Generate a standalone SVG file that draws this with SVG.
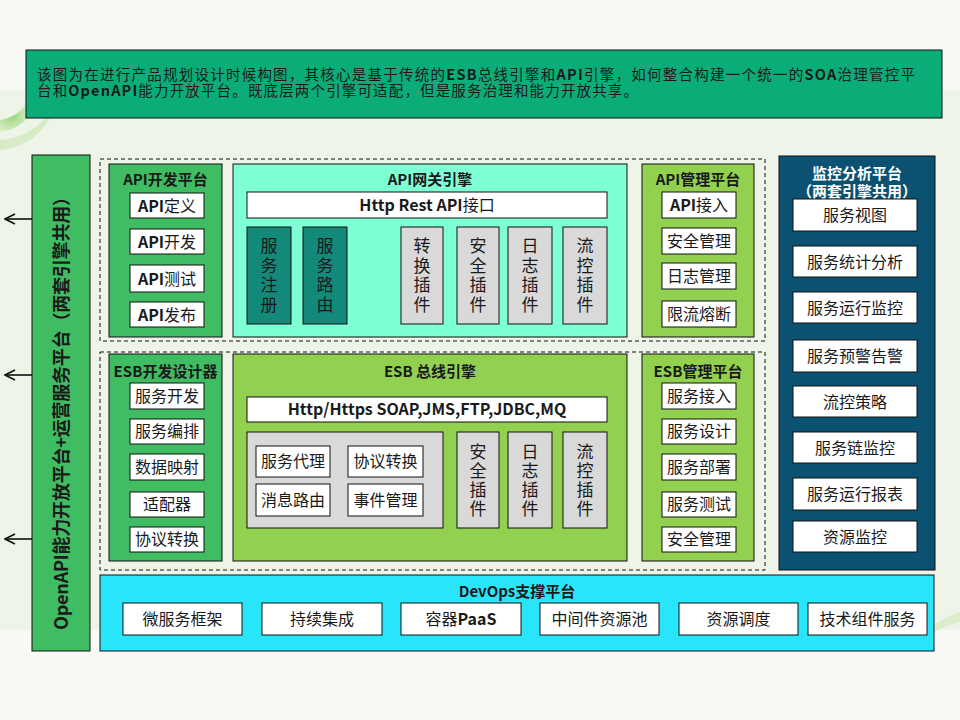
<svg xmlns="http://www.w3.org/2000/svg" width="960" height="720" viewBox="0 0 960 720">
<defs>
<style>
text{font-family:"Noto Sans CJK SC","Noto Sans",sans-serif;fill:#1a1a1a}
.b{font-weight:bold}
.ttl{font-size:15px;font-weight:bold;text-anchor:middle}
.it{font-size:16px;text-anchor:middle}
.vt{font-size:17px;text-anchor:middle}
.box{fill:#fff;stroke:#111;stroke-width:1}
.gray{fill:#d9d9d9;stroke:#111;stroke-width:1}
.teal{fill:#13897a;stroke:#111;stroke-width:1}
.dash{fill:none;stroke:#111;stroke-width:1;stroke-dasharray:4 3}
.g1{fill:#40bd62;stroke:#111;stroke-width:1}
.g2{fill:#92d050;stroke:#111;stroke-width:1}
.conn{stroke:#111;stroke-width:1.6;fill:none}
</style>
<marker id="arr" viewBox="0 0 12 12" refX="11" refY="6" markerWidth="12" markerHeight="12" markerUnits="userSpaceOnUse" orient="auto">
<polyline points="1,1 11,6 1,11" fill="none" stroke="#111" stroke-width="1.6"/>
</marker>
<radialGradient id="sw" cx="0.3" cy="0.5" r="0.7">
<stop offset="0" stop-color="#8fd06a" stop-opacity="0.9"/>
<stop offset="1" stop-color="#c8e8b4" stop-opacity="0.3"/>
</radialGradient>
</defs>
<g id="background">
<rect x="0" y="0" width="960" height="720" fill="#f7faf4"/>
<rect x="0" y="90" width="960" height="540" fill="#eef5e8"/>
<path d="M0,150 C25,148 48,132 58,100 C45,125 25,138 0,140 Z" fill="#cfe9bd" opacity="0.8"/>
<path d="M0,132 C18,130 32,118 38,100 L28,100 C22,112 12,118 0,120 Z" fill="url(#sw)"/>
<path d="M920,632 C935,625 948,615 960,612 L960,622 C948,625 938,630 930,634 Z" fill="#d5ebc6" opacity="0.8"/>
</g>
<g id="intro">
<rect x="26" y="50" width="916" height="68" fill="#0aad78" stroke="#111" stroke-width="1"/>
<text x="37" y="80" font-size="14.5" textLength="878" lengthAdjust="spacing">该图为在进行产品规划设计时候构图，其核心是基于传统的<tspan class="b">ESB</tspan>总线引擎和<tspan class="b">API</tspan>引擎，如何整合构建一个统一的<tspan class="b">SOA</tspan>治理管控平</text>
<text x="37" y="96" font-size="14.5" textLength="601" lengthAdjust="spacing">台和<tspan class="b">OpenAPI</tspan>能力开放平台。既底层两个引擎可适配，但是服务治理和能力开放共享。</text>
</g>
<g id="connectors">
<line class="conn" x1="32" y1="219" x2="5" y2="219" marker-end="url(#arr)"/>
<line class="conn" x1="32" y1="375" x2="5" y2="375" marker-end="url(#arr)"/>
<line class="conn" x1="32" y1="539" x2="5" y2="539" marker-end="url(#arr)"/>
</g>
<g id="openapi-platform">
<rect class="g1" x="32" y="155" width="58" height="496"/>
<text class="b" font-size="18" text-anchor="middle" transform="translate(67.5,409) rotate(-90)" textLength="442" lengthAdjust="spacing">OpenAPI能力开放平台+运营服务平台（两套引擎共用）</text>
</g>
<g id="api-group">
<rect class="dash" x="100" y="159" width="665" height="182"/>
</g>
<g id="esb-group">
<rect class="dash" x="100" y="352" width="665" height="218"/>
</g>
<g id="api-dev">
<rect class="g1" x="109" y="164" width="113" height="173"/>
<text class="ttl" x="165.5" y="184.5">API开发平台</text>
<rect class="box" x="130" y="193" width="74" height="25"/><text class="it" x="167" y="211.5"><tspan class="b">API</tspan>定义</text>
<rect class="box" x="130" y="229" width="74" height="25"/><text class="it" x="167" y="247.5"><tspan class="b">API</tspan>开发</text>
<rect class="box" x="130" y="265" width="74" height="27"/><text class="it" x="167" y="284.5"><tspan class="b">API</tspan>测试</text>
<rect class="box" x="130" y="302" width="74" height="25"/><text class="it" x="167" y="320.5"><tspan class="b">API</tspan>发布</text>
</g>
<g id="api-gateway">
<rect x="233" y="164" width="394" height="173" fill="#7fffd4" stroke="#111" stroke-width="1"/>
<text class="ttl" x="430" y="184.5">API网关引擎</text>
<rect class="box" x="247" y="192" width="360" height="26"/>
<text class="it" x="427" y="210.5"><tspan class="b">Http Rest API</tspan>接口</text>
<rect class="teal" x="247" y="227" width="44" height="97"/>
<text class="vt" x="269" y="252"><tspan x="269">服</tspan><tspan x="269" dy="19.5">务</tspan><tspan x="269" dy="19.5">注</tspan><tspan x="269" dy="19.5">册</tspan></text>
<rect class="teal" x="303" y="227" width="44" height="97"/>
<text class="vt" x="325" y="252"><tspan x="325">服</tspan><tspan x="325" dy="19.5">务</tspan><tspan x="325" dy="19.5">路</tspan><tspan x="325" dy="19.5">由</tspan></text>
<rect class="gray" x="401" y="227" width="42" height="97"/>
<text class="vt" x="422" y="252"><tspan x="422">转</tspan><tspan x="422" dy="19.5">换</tspan><tspan x="422" dy="19.5">插</tspan><tspan x="422" dy="19.5">件</tspan></text>
<rect class="gray" x="457" y="227" width="42" height="97"/>
<text class="vt" x="478" y="252"><tspan x="478">安</tspan><tspan x="478" dy="19.5">全</tspan><tspan x="478" dy="19.5">插</tspan><tspan x="478" dy="19.5">件</tspan></text>
<rect class="gray" x="508" y="227" width="44" height="97"/>
<text class="vt" x="530" y="252"><tspan x="530">日</tspan><tspan x="530" dy="19.5">志</tspan><tspan x="530" dy="19.5">插</tspan><tspan x="530" dy="19.5">件</tspan></text>
<rect class="gray" x="563" y="227" width="44" height="97"/>
<text class="vt" x="585" y="252"><tspan x="585">流</tspan><tspan x="585" dy="19.5">控</tspan><tspan x="585" dy="19.5">插</tspan><tspan x="585" dy="19.5">件</tspan></text>
</g>
<g id="api-mgmt">
<rect class="g2" x="642" y="164" width="112" height="173"/>
<text class="ttl" x="698" y="184.5">API管理平台</text>
<rect class="box" x="662" y="192" width="74" height="26"/><text class="it" x="699" y="210.5"><tspan class="b">API</tspan>接入</text>
<rect class="box" x="662" y="228" width="74" height="26"/><text class="it" x="699" y="246.5">安全管理</text>
<rect class="box" x="662" y="263" width="74" height="26"/><text class="it" x="699" y="281.5">日志管理</text>
<rect class="box" x="662" y="301" width="74" height="26"/><text class="it" x="699" y="319.5">限流熔断</text>
</g>
<g id="esb-dev">
<rect class="g1" x="109" y="354" width="113" height="207"/>
<text class="ttl" x="165.5" y="376.5">ESB开发设计器</text>
<rect class="box" x="130" y="383" width="74" height="26"/><text class="it" x="167" y="401.5">服务开发</text>
<rect class="box" x="130" y="419" width="74" height="25"/><text class="it" x="167" y="437">服务编排</text>
<rect class="box" x="130" y="454" width="74" height="26"/><text class="it" x="167" y="472.5">数据映射</text>
<rect class="box" x="130" y="492" width="74" height="25"/><text class="it" x="167" y="510">适配器</text>
<rect class="box" x="130" y="527" width="74" height="25"/><text class="it" x="167" y="545">协议转换</text>
</g>
<g id="esb-bus">
<rect class="g2" x="233" y="354" width="394" height="207"/>
<text class="ttl" x="430" y="376.5">ESB 总线引擎</text>
<rect class="box" x="247" y="397" width="360" height="25"/>
<text class="it b" x="427" y="415">Http/Https SOAP,JMS,FTP,JDBC,MQ</text>
<rect class="gray" x="247" y="432" width="196" height="96"/>
<rect class="box" x="256" y="446" width="74" height="31"/><text class="it" x="293" y="467">服务代理</text>
<rect class="box" x="348" y="446" width="75" height="31"/><text class="it" x="385.5" y="467">协议转换</text>
<rect class="box" x="256" y="484" width="74" height="32"/><text class="it" x="293" y="505.5">消息路由</text>
<rect class="box" x="348" y="484" width="75" height="32"/><text class="it" x="385.5" y="505.5">事件管理</text>
<rect class="gray" x="457" y="432" width="42" height="96"/>
<text class="vt" x="478" y="458"><tspan x="478">安</tspan><tspan x="478" dy="19">全</tspan><tspan x="478" dy="19">插</tspan><tspan x="478" dy="19">件</tspan></text>
<rect class="gray" x="508" y="432" width="44" height="96"/>
<text class="vt" x="530" y="458"><tspan x="530">日</tspan><tspan x="530" dy="19">志</tspan><tspan x="530" dy="19">插</tspan><tspan x="530" dy="19">件</tspan></text>
<rect class="gray" x="563" y="432" width="44" height="96"/>
<text class="vt" x="585" y="458"><tspan x="585">流</tspan><tspan x="585" dy="19">控</tspan><tspan x="585" dy="19">插</tspan><tspan x="585" dy="19">件</tspan></text>
</g>
<g id="esb-mgmt">
<rect class="g2" x="642" y="354" width="112" height="207"/>
<text class="ttl" x="698" y="376.5">ESB管理平台</text>
<rect class="box" x="662" y="383" width="74" height="26"/><text class="it" x="699" y="401.5">服务接入</text>
<rect class="box" x="662" y="419" width="74" height="25"/><text class="it" x="699" y="437">服务设计</text>
<rect class="box" x="662" y="454" width="74" height="26"/><text class="it" x="699" y="472.5">服务部署</text>
<rect class="box" x="662" y="492" width="74" height="25"/><text class="it" x="699" y="510">服务测试</text>
<rect class="box" x="662" y="527" width="74" height="25"/><text class="it" x="699" y="545">安全管理</text>
</g>
<g id="monitor">
<rect x="779" y="156" width="156" height="414" fill="#0b5272" stroke="#111" stroke-width="1"/>
<text class="ttl" x="857" y="179" style="fill:#fff" font-size="15.5">监控分析平台</text>
<text class="ttl" x="857" y="197" style="fill:#fff" font-size="15.5">（两套引擎共用）</text>
<rect class="box" x="793" y="199" width="124" height="32"/><text class="it" x="855" y="221">服务视图</text>
<rect class="box" x="793" y="246" width="124" height="31"/><text class="it" x="855" y="267.5">服务统计分析</text>
<rect class="box" x="793" y="292" width="124" height="31"/><text class="it" x="855" y="313.5">服务运行监控</text>
<rect class="box" x="793" y="340" width="124" height="32"/><text class="it" x="855" y="362">服务预警告警</text>
<rect class="box" x="793" y="386" width="124" height="31"/><text class="it" x="855" y="407.5">流控策略</text>
<rect class="box" x="793" y="432" width="124" height="31"/><text class="it" x="855" y="453.5">服务链监控</text>
<rect class="box" x="793" y="478" width="124" height="32"/><text class="it" x="855" y="500">服务运行报表</text>
<rect class="box" x="793" y="521" width="124" height="31"/><text class="it" x="855" y="542.5">资源监控</text>
</g>
<g id="devops">
<rect x="100" y="575" width="834" height="76" fill="#28e5fa" stroke="#111" stroke-width="1"/>
<text class="ttl" x="517" y="596.5">DevOps支撑平台</text>
<rect class="box" x="123" y="603" width="119" height="32"/><text class="it" x="182.5" y="625">微服务框架</text>
<rect class="box" x="262" y="603" width="120" height="32"/><text class="it" x="322" y="625">持续集成</text>
<rect class="box" x="401" y="603" width="120" height="32"/><text class="it" x="461" y="625">容器<tspan class="b">PaaS</tspan></text>
<rect class="box" x="540" y="603" width="119" height="32"/><text class="it" x="599.5" y="625">中间件资源池</text>
<rect class="box" x="679" y="603" width="119" height="32"/><text class="it" x="738.5" y="625">资源调度</text>
<rect class="box" x="808" y="603" width="119" height="32"/><text class="it" x="867.5" y="625">技术组件服务</text>
</g>
</svg>
